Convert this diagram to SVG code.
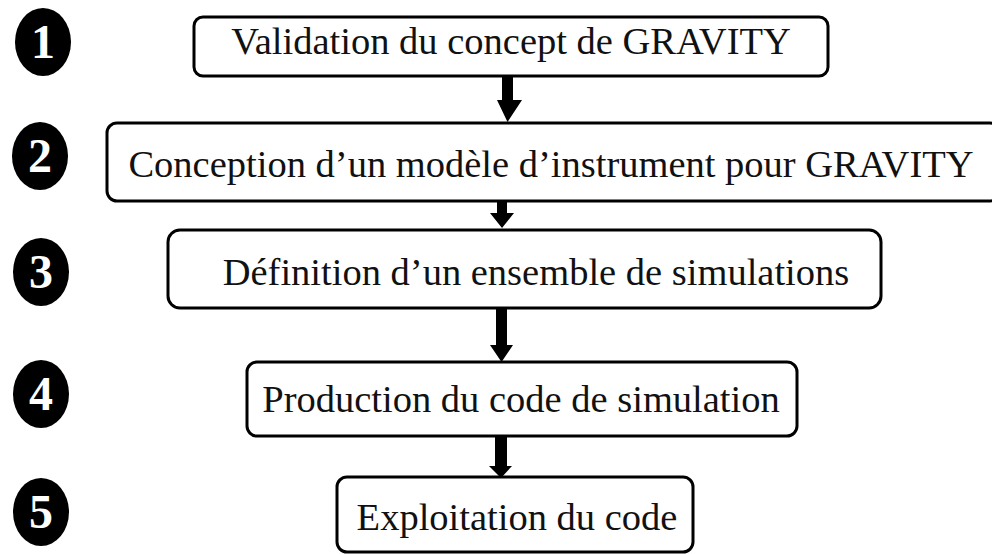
<svg xmlns="http://www.w3.org/2000/svg" width="992" height="554" viewBox="0 0 992 554">
<style>
.box{fill:#fff;stroke:#000;stroke-width:3}
.lbl{font-family:"Liberation Serif","Times New Roman",serif;font-size:38.5px;fill:#111;text-anchor:middle}
.num{fill:#000}
.dig{font-family:"Liberation Serif","Times New Roman",serif;font-size:48px;font-weight:bold;fill:#fff;text-anchor:middle}
.arr{fill:#000}
</style>
<rect width="992" height="554" fill="#fff"/>
<g id="badges">
<g id="badge1"><ellipse class="num" cx="43" cy="42" rx="28" ry="34"/><text class="dig" x="43" y="58">1</text></g>
<g id="badge2"><ellipse class="num" cx="40" cy="156" rx="28" ry="34"/><text class="dig" x="40" y="172">2</text></g>
<g id="badge3"><ellipse class="num" cx="41" cy="272" rx="28" ry="34"/><text class="dig" x="41" y="288">3</text></g>
<g id="badge4"><ellipse class="num" cx="41" cy="394" rx="28" ry="34"/><text class="dig" x="41" y="410">4</text></g>
<g id="badge5"><ellipse class="num" cx="41" cy="512" rx="28" ry="34"/><text class="dig" x="41" y="528">5</text></g>
</g>
<g id="connectors">
<polygon class="arr" points="502,76 513,76 513,100 522,100 507.5,122 497,100 502,100"/>
<polygon class="arr" points="497,201 507,201 507,213 514,213 502,228 490,213 497,213"/>
<polygon class="arr" points="496,308 507,308 507,345 513,345 501.5,362 490,345 496,345"/>
<polygon class="arr" points="495,436 507,436 507,466 512,466 501,478 489,466 495,466"/>
</g>
<g id="node1"><rect class="box" x="194" y="17" width="634" height="59" rx="9"/><text class="lbl" x="511" y="54">Validation du concept de GRAVITY</text></g>
<g id="node2"><rect class="box" x="107" y="123" width="893" height="78" rx="10"/><text class="lbl" x="551" y="177">Conception d’un modèle d’instrument pour GRAVITY</text></g>
<g id="node3"><rect class="box" x="168" y="230" width="713" height="78" rx="12"/><text class="lbl" x="536" y="285">Définition d’un ensemble de simulations</text></g>
<g id="node4"><rect class="box" x="247" y="362" width="550" height="74" rx="10"/><text class="lbl" x="521" y="412">Production du code de simulation</text></g>
<g id="node5"><rect class="box" x="337" y="477" width="356" height="75" rx="10"/><text class="lbl" x="517" y="530">Exploitation du code</text></g>
</svg>
